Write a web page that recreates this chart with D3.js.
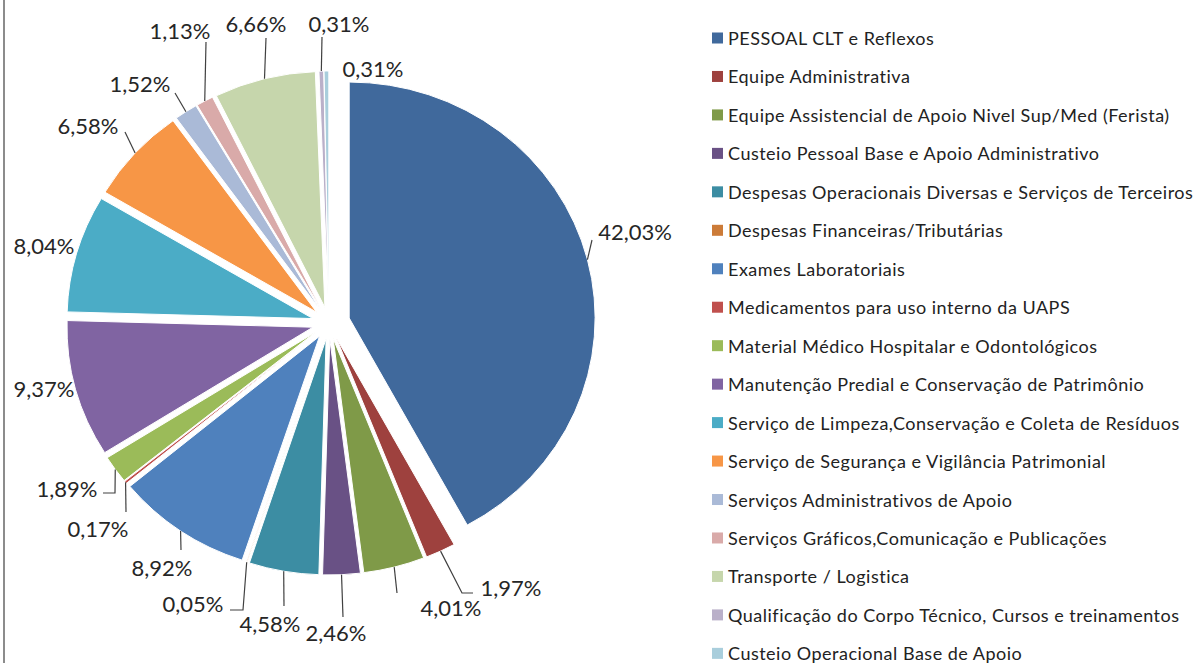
<!DOCTYPE html>
<html>
<head>
<meta charset="utf-8">
<script src="https://cdn.jsdelivr.net/npm/d3@7"></script>
<style>
  body { margin: 0; background: #fff; }
  svg { display: block; font-family: Lato, "Open Sans", sans-serif; }
</style>
</head>
<body>
<div class="chart"></div>
<script>
// categories, values and colors, in legend order (clockwise from 12 o'clock)
var categories = [
    "PESSOAL CLT e Reflexos",
    "Equipe Administrativa",
    "Equipe Assistencial de Apoio Nivel Sup/Med (Ferista)",
    "Custeio Pessoal Base e Apoio Administrativo",
    "Despesas Operacionais Diversas e Serviços de Terceiros",
    "Despesas Financeiras/Tributárias",
    "Exames Laboratoriais",
    "Medicamentos para uso interno da UAPS",
    "Material Médico Hospitalar e Odontológicos",
    "Manutenção Predial e Conservação de Patrimônio",
    "Serviço de Limpeza,Conservação e Coleta de Resíduos",
    "Serviço de Segurança e Vigilância Patrimonial",
    "Serviços Administrativos de Apoio",
    "Serviços Gráficos,Comunicação e Publicações",
    "Transporte / Logistica",
    "Qualificação do Corpo Técnico, Cursos e treinamentos",
    "Custeio Operacional Base de Apoio"
];
var values = [42.03, 1.97, 4.01, 2.46, 4.58, 0.05, 8.92, 0.17, 1.89, 9.37, 8.04, 6.58, 1.52, 1.13, 6.66, 0.31, 0.31];
var colors = [
    "#40699c", "#9e413e", "#7f9a48", "#695185", "#3c8da3", "#cc7b38",
    "#4f81bd", "#c0504d", "#9bbb59", "#8064a2", "#4bacc6", "#f79646",
    "#aabad7", "#d9aaa9", "#c6d6ac", "#bab0c9", "#a9cedc"
];

// layout
var svgWidth = 1198;
var svgHeight = 663;
var cx = 329, cy = 323;
var radius = 236;
var stretchX = 1.042;     // the original picture is slightly wider than tall
var explodeBig = 20, explodeSmall = 16;

// label centres and leader line bends (null = no leader)
var labelPos = [
    [635, 231], [511, 587], [451, 607], [336, 632], [270, 623], [193, 603],
    [162, 567], [98, 528], [67, 488], [44, 388], [44, 245], [88, 125],
    [140, 83], [180, 30], [256, 23], [339, 23], [373, 68]
];
var leaderVia = [
    [[592, 240]], [[462, 593], [473, 593]], [[397, 593]], [[343, 617]], [[284, 606]],
    [[243, 610], [230, 610]], [[181, 550]], [[126, 512]], [[115, 493], [103, 493]],
    null, null, [[125, 132]], [[175, 93]], [[206, 42]], [[266, 38]], [[322, 37]], null
];

var svg = d3.select(".chart")
    .append("svg")
    .attr("width", svgWidth)
    .attr("height", svgHeight);

// left border of the chart area
svg.append("line")
    .attr("x1", 4).attr("x2", 4)
    .attr("y1", 0).attr("y2", svgHeight)
    .attr("stroke", "#8c8c8c")
    .attr("stroke-width", 2);

var pie = d3.pie().sort(null).value(d => d);
var arcs = pie(values);
var arc = d3.arc().innerRadius(0).outerRadius(radius);

function midAngle(d) { return (d.startAngle + d.endAngle) / 2; }
function explode(i) { return i === 0 ? explodeBig : explodeSmall; }

var pieGroup = svg.append("g")
    .attr("transform", `translate(${cx}, ${cy}) scale(${stretchX}, 1)`);

pieGroup.selectAll("path")
    .data(arcs)
    .enter()
    .append("path")
    .attr("d", arc)
    .attr("fill", (d, i) => colors[i])
    .attr("stroke", "#fff")
    .attr("stroke-width", 1)
    .attr("vector-effect", "non-scaling-stroke")
    .attr("transform", (d, i) => {
        var a = midAngle(d), e = explode(i);
        return `translate(${Math.sin(a) * e}, ${-Math.cos(a) * e})`;
    });

// point on the outer edge of a slice, in page coordinates
function edgePoint(d, i) {
    var a = midAngle(d), e = explode(i) + radius;
    return [cx + stretchX * Math.sin(a) * e, cy - Math.cos(a) * e];
}

var fmt = d3.format(".2f");

svg.append("g")
    .selectAll("path")
    .data(arcs.filter((d, i) => leaderVia[i]))
    .enter()
    .append("path")
    .attr("d", d => {
        var i = d.index;
        return d3.line()([edgePoint(d, i)].concat(leaderVia[i]));
    })
    .attr("fill", "none")
    .attr("stroke", "#404040")
    .attr("stroke-width", 1.2);

svg.append("g")
    .selectAll("text")
    .data(arcs)
    .enter()
    .append("text")
    .attr("x", (d, i) => labelPos[i][0])
    .attr("y", (d, i) => labelPos[i][1])
    .attr("text-anchor", "middle")
    .attr("dominant-baseline", "central")
    .attr("font-size", 22)
    .attr("fill", "#262626")
    .text(d => fmt(d.data).replace(".", ",") + "%");

// legend
var legend = svg.append("g")
    .attr("transform", "translate(712, 38)");

var item = legend.selectAll("g")
    .data(categories)
    .enter()
    .append("g")
    .attr("transform", (d, i) => `translate(0, ${i * 38.46})`);

item.append("rect")
    .attr("x", 0).attr("y", -5.5)
    .attr("width", 11).attr("height", 11)
    .attr("fill", (d, i) => colors[i]);

item.append("text")
    .attr("x", 16)
    .attr("y", 0)
    .attr("dominant-baseline", "central")
    .attr("font-size", 18)
    .attr("letter-spacing", 0.5)
    .attr("fill", "#222")
    .text(d => d);
</script>
</body>
</html>
